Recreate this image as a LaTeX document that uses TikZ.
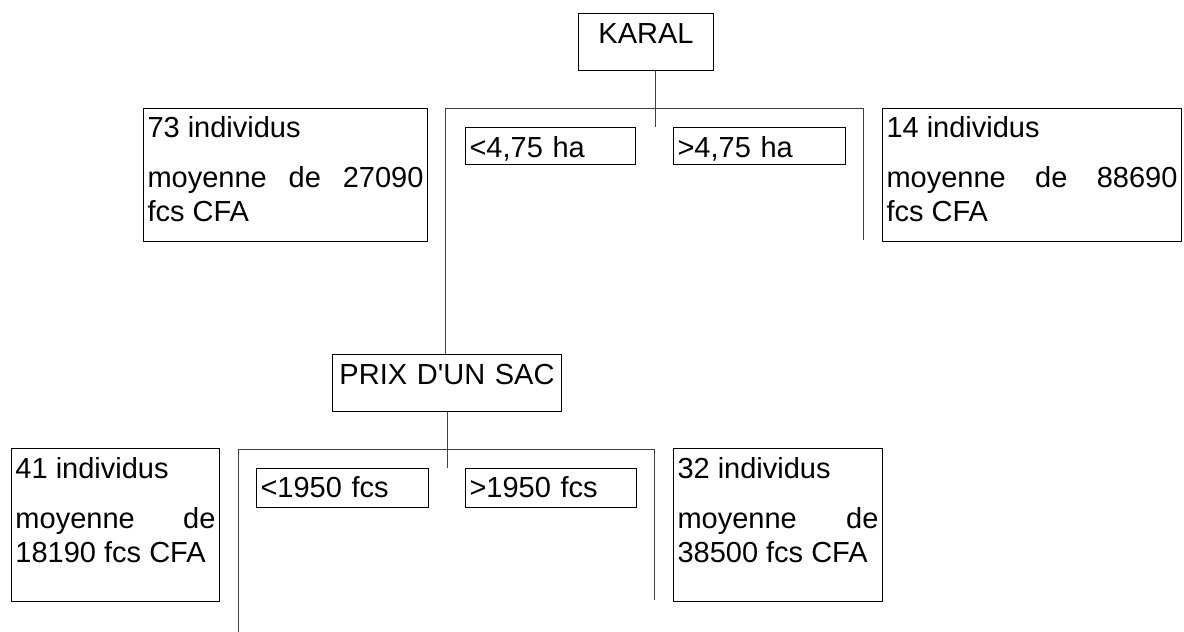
\documentclass[tikz,border=0pt]{standalone}
\usepackage{fontspec}
\setmainfont{Liberation Sans}
\tolerance=10000
\hyphenpenalty=10000

\tikzset{
  headbox/.style={draw, anchor=north west, inner sep=0pt, align=center,
    text height=30pt, text depth=27pt},
  splitbox/.style={draw, anchor=north west, inner xsep=4pt, inner ysep=0pt,
    align=left},
  infobox/.style={draw, anchor=north west, inner xsep=4pt, inner ysep=0pt,
    align=justify},
  link/.style={line width=1pt, black!75}
}

\begin{document}
\begin{tikzpicture}[x=1pt, y=-1pt, line width=1pt,
    font=\fontsize{29}{33.5}\selectfont]
    \useasboundingbox (0,0) rectangle (1184,632);

    % First split: KARAL
    \node[headbox, text width=135pt] (karal) at (578,13) {KARAL};
    \node[splitbox, text width=162pt, text height=30pt, text depth=7pt] (haLow) at (465,127) {<4,75 ha};
    \node[splitbox, text width=164pt, text height=30pt, text depth=7pt] (haHigh) at (673,127) {>4,75 ha};

    \node[infobox, text width=276pt, text height=29pt, text depth=104pt] (grpA) at (143,108)
        {73 individus\par\vspace{16.5pt}moyenne de 27090 fcs CFA};
    \node[infobox, text width=291pt, text height=29pt, text depth=104pt] (grpB) at (882,108)
        {14 individus\par\vspace{16.5pt}moyenne de 88690\linebreak fcs CFA};

    % Second split: PRIX D'UN SAC
    \node[headbox, text width=229pt] (prix) at (332,354) {PRIX D\textquotesingle UN SAC};
    \node[splitbox, text width=164pt, text height=29pt, text depth=10pt] (fcsLow) at (256,468) {<1950 fcs};
    \node[splitbox, text width=163pt, text height=29pt, text depth=10pt] (fcsHigh) at (465,468) {>1950 fcs};

    \node[infobox, text width=200pt, text height=30pt, text depth=123pt] (grpC) at (11,448)
        {41 individus\par\vspace{16.5pt}moyenne de 18190 fcs CFA};
    \node[infobox, text width=201pt, text height=30pt, text depth=123pt] (grpD) at (673,448)
        {32 individus\par\vspace{16.5pt}moyenne de 38500 fcs CFA};

    % Branch lines
    \coordinate (karalTip) at (655,127);
    \coordinate (topL) at (445,108);
    \coordinate (topR) at (863,108);
    \coordinate (topEnd) at (863,240);
    \draw[link] (karal.south -| karalTip) -- (karalTip);
    \draw[link] (topEnd) -- (topR) -- (topL) -- (topL |- prix.north);

    \coordinate (botL) at (238,449);
    \coordinate (botR) at (654,449);
    \coordinate (botEndL) at (238,632);
    \coordinate (botEndR) at (654,600);
    \draw[link] (prix.south) -- (prix.south |- fcsLow.north);
    \draw[link] (botEndR) -- (botR) -- (botL) -- (botEndL);
\end{tikzpicture}
\end{document}
